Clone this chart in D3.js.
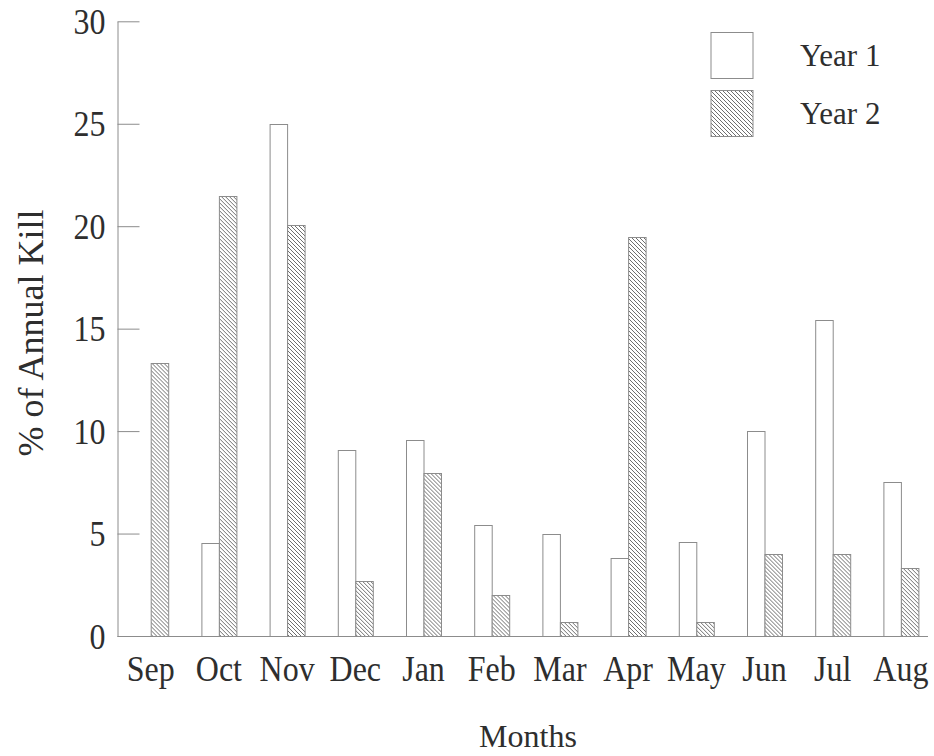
<!DOCTYPE html>
<html>
<head>
<meta charset="utf-8">
<script src="https://cdn.jsdelivr.net/npm/d3@7"></script>
<style>
  html, body { margin: 0; padding: 0; background: #fff; }
  svg { display: block; }
  text { font-family: "Liberation Serif", "Times New Roman", serif; fill: #2e2e2e; }
</style>
</head>
<body>
<svg id="chart" width="934" height="756"></svg>
<script>
// Monthly share of the annual kill, two seasons
const months = ["Sep", "Oct", "Nov", "Dec", "Jan", "Feb", "Mar", "Apr", "May", "Jun", "Jul", "Aug"];
const seriesNames = ["Year 1", "Year 2"];
const year1 = [0, 4.55, 25.0, 9.1, 9.55, 5.4, 5.0, 3.8, 4.6, 10.0, 15.4, 7.5];
const year2 = [13.3, 21.45, 20.05, 2.7, 7.95, 2.0, 0.7, 19.45, 0.7, 4.0, 4.0, 3.3];
const yTicks = [0, 5, 10, 15, 20, 25, 30];

const svg = d3.select("#chart");
const lineColor = "#8c8c8c";
const tall = 1.12; // slightly elongated axis lettering

// hatch fill for the second series
const defs = svg.append("defs");
const pat = defs.append("pattern")
  .attr("id", "hatch")
  .attr("patternUnits", "userSpaceOnUse")
  .attr("width", 4).attr("height", 4);
pat.append("rect").attr("width", 4).attr("height", 4).attr("fill", "#fff");
pat.append("path")
  .attr("d", "M-1,-1 L5,5 M-1,3 L1,5 M3,-1 L5,1")
  .attr("stroke", "#6f6f6f").attr("stroke-width", 1);

const x = d3.scaleBand().domain(months).range([116.6, 935]).padding(0);
const barW = 17.5;
const xs = d3.scaleBand().domain(seriesNames)
  .range([x.bandwidth() / 2 - barW, x.bandwidth() / 2 + barW]).padding(0);
const y = d3.scaleLinear().domain([0, 30]).range([636, 21.3]);

const rows = months.map((m, i) => ({ month: m, values: [year1[i], year2[i]] }));

// bars
const groups = svg.append("g").selectAll("g").data(rows).join("g")
  .attr("transform", d => `translate(${x(d.month)},0)`);
groups.selectAll("rect")
  .data(d => d.values.map((v, k) => ({ name: seriesNames[k], v })).filter(e => e.v > 0))
  .join("rect")
  .attr("x", e => xs(e.name) + 0.5)
  .attr("y", e => Math.round(y(e.v)) + 0.5)
  .attr("width", xs.bandwidth())
  .attr("height", e => y(0) - Math.round(y(e.v)))
  .attr("fill", e => e.name === "Year 1" ? "#fff" : "url(#hatch)")
  .attr("stroke", lineColor).attr("stroke-width", 1);

// y axis with inward ticks
const yAxis = svg.append("g").attr("transform", "translate(117.5,0)")
  .call(d3.axisLeft(y).tickValues(yTicks).tickSize(-22).tickPadding(12).tickSizeOuter(0));
yAxis.select(".domain").attr("stroke", lineColor);
yAxis.selectAll(".tick line").attr("stroke", lineColor);
yAxis.selectAll(".tick text")
  .attr("font-size", 32).attr("font-family", null).attr("fill", null)
  .attr("dy", "0.34em")
  .attr("transform", `scale(1,${tall})`);

// baseline
svg.append("line")
  .attr("x1", 117.5).attr("x2", 928).attr("y1", 636.5).attr("y2", 636.5)
  .attr("stroke", lineColor);

// month labels
const xAxis = svg.append("g").attr("transform", "translate(0,636)")
  .call(d3.axisBottom(x).tickSize(0).tickPadding(0));
xAxis.select(".domain").remove();
xAxis.selectAll(".tick text")
  .attr("font-size", 32).attr("font-family", null).attr("fill", null)
  .attr("y", 0).attr("dy", 0)
  .attr("transform", `translate(0,45) scale(1,${tall})`);

// axis titles
svg.append("text")
  .attr("transform", "translate(528,747)")
  .attr("text-anchor", "middle").attr("font-size", 32)
  .text("Months");
svg.append("text")
  .attr("transform", "translate(43,333) rotate(-90)")
  .attr("text-anchor", "middle").attr("font-size", 36)
  .text("% of Annual Kill");

// legend
const legend = svg.append("g");
seriesNames.forEach((name, k) => {
  const top = k === 0 ? 32.5 : 90.5;
  legend.append("rect")
    .attr("x", 711).attr("y", top).attr("width", 42).attr("height", 46)
    .attr("fill", k === 0 ? "#fff" : "url(#hatch)")
    .attr("stroke", lineColor);
  legend.append("text")
    .attr("x", 800).attr("y", top + 33.5)
    .attr("font-size", 31)
    .text(name);
});
</script>
</body>
</html>
